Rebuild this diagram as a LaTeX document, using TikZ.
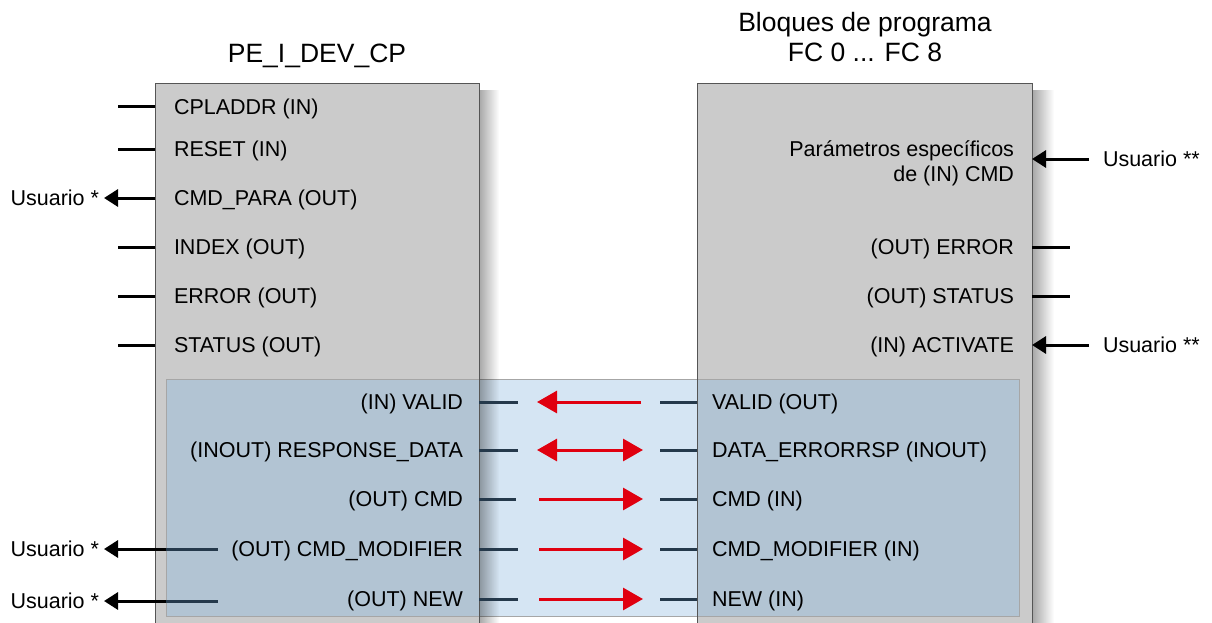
\documentclass[tikz,border=0pt]{standalone}
\usepackage{fontspec}
\setmainfont{Liberation Sans}
\usetikzlibrary{calc, positioning}
\usetikzlibrary{arrows.meta}
\usetikzlibrary{fadings}

\definecolor{blockgray}{HTML}{CBCBCB}
\definecolor{framegray}{HTML}{555555}
\definecolor{pinblue}{HTML}{B2C4D3}
\definecolor{linkblue}{HTML}{D5E5F3}
\definecolor{stubdark}{HTML}{25394B}
\definecolor{flowred}{HTML}{E0000F}

\tikzset{
  every node/.style={inner sep=0pt, outer sep=0pt, font=\fontsize{21.5}{25}\selectfont},
  pinlabel/.style={text height=15.4pt, text depth=0pt},
  titlelabel/.style={font=\fontsize{26.5}{30}\selectfont, align=center},
  blockbox/.style={fill=blockgray, anchor=north west},
  blackstub/.style={line width=3pt, black},
  darkstub/.style={line width=3pt, stubdark},
  userarrow/.style={line width=3pt, black, -{Triangle[length=14pt, width=17pt]}},
  redflow/.style={line width=3pt, flowred, -{Triangle[length=20pt, width=22pt]}},
  redboth/.style={line width=3pt, flowred, {Triangle[length=20pt, width=22pt]}-{Triangle[length=20pt, width=22pt]}},
  boxshadow/.style={black, opacity=0.35, path fading=east},
}

\begin{document}
\begin{tikzpicture}[x=1pt, y=-1pt]
\useasboundingbox (0,0) rectangle (1212,623);
\clip (0,0) rectangle (1212,623);

% the two blocks
\node[blockbox, minimum width=324pt, minimum height=560pt] (dev) at (155,84) {};
\node[blockbox, minimum width=335pt, minimum height=560pt] (fc) at (697,84) {};

\coordinate (bandNW) at (166,379);
\coordinate (bandSE) at (1019,616);

\fill[pinblue] (bandNW) rectangle (bandSE);
\fill[linkblue] (dev.east |- bandNW) rectangle (fc.west |- bandSE);
\draw[gray!70, line width=1pt] (bandNW) rectangle (bandSE);

\fill[boxshadow] ($(dev.north east)+(0,6)$) rectangle ($(dev.south east)+(20,0)$);
\fill[boxshadow] ($(fc.north east)+(0,6)$) rectangle ($(fc.south east)+(22,0)$);

\draw[framegray, line width=1pt] (dev.south west) -- (dev.north west) -- (dev.north east) -- (dev.south east);
\draw[framegray, line width=1pt] (fc.south west) -- (fc.north west) -- (fc.north east) -- (fc.south east);

% titles
\node[titlelabel, anchor=base] (devtitle) at (317,63) {PE\_I\_DEV\_CP};
\node[titlelabel, anchor=base] (fctitle) at (865,62) {Bloques de programa\\FC 0 ... FC 8};

% PE_I_DEV_CP, upper pins
\node[pinlabel, anchor=west] (cpladdr) at (174,107) {CPLADDR (IN)};
\node[pinlabel, anchor=west] (reset) at (174,149) {RESET (IN)};
\node[pinlabel, anchor=west] (cmdpara) at (174,198) {CMD\_PARA (OUT)};
\node[pinlabel, anchor=west] (index) at (174,247) {INDEX (OUT)};
\node[pinlabel, anchor=west] (errorout) at (174,296) {ERROR (OUT)};
\node[pinlabel, anchor=west] (statusout) at (174,345) {STATUS (OUT)};

\draw[blackstub] (dev.west |- cpladdr) -- ++(-37,0);
\draw[blackstub] (dev.west |- reset) -- ++(-37,0);
\draw[blackstub] (dev.west |- index) -- ++(-37,0);
\draw[blackstub] (dev.west |- errorout) -- ++(-37,0);
\draw[blackstub] (dev.west |- statusout) -- ++(-37,0);

\node[pinlabel, anchor=east] (userpara) at (99,198) {Usuario *};
\draw[userarrow, shorten >=5pt] (dev.west |- cmdpara) -- (userpara);

% PE_I_DEV_CP, lower pins
\node[pinlabel, anchor=east] (validin) at (463,402) {(IN) VALID};
\node[pinlabel, anchor=east] (respdata) at (463,450) {(INOUT) RESPONSE\_DATA};
\node[pinlabel, anchor=east] (cmdout) at (463,499) {(OUT) CMD};
\node[pinlabel, anchor=east] (cmdmod) at (463,549) {(OUT) CMD\_MODIFIER};
\node[pinlabel, anchor=east] (newout) at (463,599) {(OUT) NEW};

\draw[darkstub] (dev.east |- validin) -- ++(39,0);
\draw[darkstub] (dev.east |- respdata) -- ++(39,0);
\draw[darkstub] (dev.east |- cmdout) -- ++(37,0);
\draw[darkstub] (dev.east |- cmdmod) -- ++(39,0);
\draw[darkstub] (dev.east |- newout) -- ++(39,0);

\node[pinlabel, anchor=east] (usermod) at (99,549) {Usuario *};
\node[pinlabel, anchor=east] (usernew) at (99,601) {Usuario *};
\draw[darkstub] (bandNW |- cmdmod) -- ++(52,0);
\draw[darkstub] (bandNW |- usernew) -- ++(52,0);
\draw[userarrow, shorten >=5pt] (bandNW |- cmdmod) -- (usermod);
\draw[userarrow, shorten >=5pt] (bandNW |- usernew) -- (usernew);

% FC block, upper pins
\node[anchor=base east, align=right] (cmdparam) at (1014,181) {Parámetros específicos\\de (IN) CMD};
\node[pinlabel, anchor=east] (fcerror) at (1014,247) {(OUT) ERROR};
\node[pinlabel, anchor=east] (fcstatus) at (1014,296) {(OUT) STATUS};
\node[pinlabel, anchor=east] (activate) at (1014,345) {(IN) ACTIVATE};

\draw[blackstub] (fc.east |- fcerror) -- ++(38,0);
\draw[blackstub] (fc.east |- fcstatus) -- ++(38,0);

\node[pinlabel, anchor=west] (userparam) at (1103,159) {Usuario **};
\node[pinlabel, anchor=west] (useract) at (1103,345) {Usuario **};
\draw[userarrow, shorten <=14pt] (userparam) -- (fc.east |- userparam);
\draw[userarrow, shorten <=14pt] (useract) -- (fc.east |- useract);

% FC block, lower pins
\node[pinlabel, anchor=west] (validout) at (712,402) {VALID (OUT)};
\node[pinlabel, anchor=west] (dataerr) at (712,450) {DATA\_ERRORRSP (INOUT)};
\node[pinlabel, anchor=west] (cmdin) at (712,499) {CMD (IN)};
\node[pinlabel, anchor=west] (cmdmodin) at (712,549) {CMD\_MODIFIER (IN)};
\node[pinlabel, anchor=west] (newin) at (712,599) {NEW (IN)};

\draw[darkstub] (fc.west |- validout) -- ++(-37,0);
\draw[darkstub] (fc.west |- dataerr) -- ++(-37,0);
\draw[darkstub] (fc.west |- cmdin) -- ++(-37,0);
\draw[darkstub] (fc.west |- cmdmodin) -- ++(-37,0);
\draw[darkstub] (fc.west |- newin) -- ++(-37,0);

% red links between the blocks
\coordinate (flowL) at (537,0);
\coordinate (flowR) at (643,0);
\draw[redflow] ($(flowR |- validout)+(-2,0)$) -- (flowL |- validout);
\draw[redboth] (flowL |- dataerr) -- (flowR |- dataerr);
\draw[redflow] ($(flowL |- cmdin)+(2,0)$) -- (flowR |- cmdin);
\draw[redflow] ($(flowL |- cmdmodin)+(2,0)$) -- (flowR |- cmdmodin);
\draw[redflow] ($(flowL |- newin)+(2,0)$) -- (flowR |- newin);
\end{tikzpicture}
\end{document}
